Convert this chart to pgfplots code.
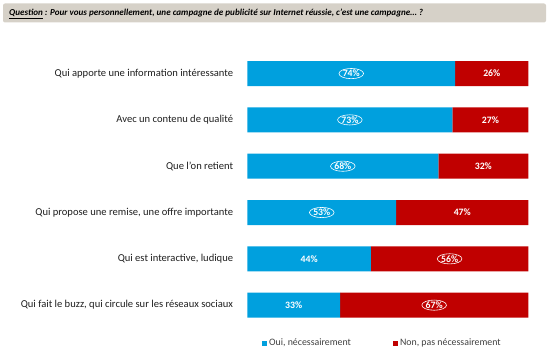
\documentclass[border=0pt]{standalone}
\usepackage{fontspec}
\setmainfont{Carlito}
\usepackage{pgfplots}
\usepackage{pgfplotstable}
\pgfplotsset{compat=1.18}
\usetikzlibrary{shapes.geometric}
\definecolor{oui}{RGB}{0,160,222}
\definecolor{non}{RGB}{192,0,0}
\definecolor{qbox}{RGB}{214,209,200}
\definecolor{lab}{RGB}{30,30,30}
\definecolor{leg}{RGB}{64,64,64}
\pgfplotstableread{
y oui non co cn
0 74 26 1 0
1 73 27 1 0
2 68 32 1 0
3 53 47 1 0
4 44 56 0 1
5 33 67 0 1
}\data
\begin{document}
\begin{tikzpicture}
\useasboundingbox (0bp,0bp) rectangle (550bp,351bp);
\fill[qbox, rounded corners=2bp] (3bp,328.5bp) rectangle (546bp,347.5bp);
\node[anchor=base west, inner sep=0pt, font=\fontsize{9.1}{10}\selectfont\bfseries\itshape] at (9bp,335bp) {\underline{Question} : Pour vous personnellement, une campagne de publicité sur Internet réussie, c’est une campagne… ?};
\begin{axis}[
  at={(247.3bp,22.7bp)}, anchor=south west, scale only axis,
  width=281bp, height=277.9bp,
  xbar stacked, bar width=25bp,
  xmin=0, xmax=100, ymin=-0.5, ymax=5.5, y dir=reverse,
  axis line style={draw=none}, tick style={draw=none},
  xtick=\empty, ytick={0,...,5},
  yticklabels={Qui apporte une information intéressante, Avec un contenu de qualité, Que l’on retient, {Qui propose une remise, une offre importante}, {Qui est interactive, ludique}, {Qui fait le buzz, qui circule sur les réseaux sociaux}},
  yticklabel style={font=\fontsize{10.6}{12}\selectfont, text=lab, inner sep=0pt, xshift=-14bp, anchor=east},
  nodes near coords={\pgfmathprintnumber[assume math mode=true]{\pgfplotspointmeta}\%},
  every node near coord/.append style={font=\fontsize{9.8}{11}\selectfont\bfseries, text=white, anchor=center, shape=ellipse, inner sep=0.2bp, draw=white, line width=0.6pt, draw opacity=\circflag},
  legend style={draw=none, fill=none, at={(0.052,-0.053)}, anchor=west, inner sep=0pt, legend columns=2, font=\fontsize{9.9}{11}\selectfont, text=leg, /tikz/every even column/.append style={column sep=40bp}},
  legend cell align=left,
  legend image code/.code={\fill[#1] (0bp,-2.5bp) rectangle (5bp,2.5bp);},
]
\addplot[fill=oui, draw=none, point meta=explicit,
  visualization depends on={\thisrow{co} \as \circflag}]
  table[x=oui, y=y, meta=oui] {\data};
\addlegendentry{Oui, nécessairement}
\addplot[fill=non, draw=none, point meta=explicit,
  visualization depends on={\thisrow{cn} \as \circflag}]
  table[x=non, y=y, meta=non] {\data};
\addlegendentry{Non, pas nécessairement}
\end{axis}
\end{tikzpicture}
\end{document}
